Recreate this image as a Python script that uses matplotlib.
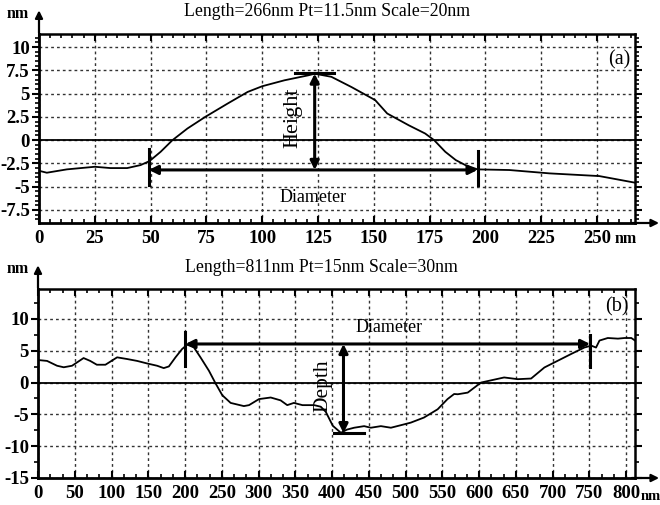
import matplotlib
matplotlib.use("Agg")
import matplotlib.pyplot as plt
from matplotlib.ticker import MultipleLocator

# ---------------- data ----------------
a_x = [0, 3.5, 12.5, 25, 32, 39.5, 45.5, 49.5, 54.5, 59.8, 66.5, 74.5, 84.5, 93.5, 100,
       110, 120.6, 123.5, 131, 140, 150.6, 156, 165.6, 173, 177, 182, 186.7, 191, 196.4,
       210.7, 228.7, 251, 258.7, 267]
a_y = [-3.29, -3.5, -3.14, -2.86, -3.0, -3.0, -2.68, -2.25, -1.25, 0, 1.25, 2.5, 3.93, 5.18, 5.79,
       6.43, 6.96, 7.14, 6.8, 5.7, 4.3, 2.86, 1.6, 0.71, 0, -1.25, -2.14, -2.68, -3.14,
       -3.21, -3.57, -3.86, -4.2, -4.57]

b_x = [0, 12.3, 25.9, 35, 46.3, 62, 71, 80, 91.7, 107.6, 121, 134.8, 148.4, 162, 171, 178, 187,
       196, 203, 212, 221, 232.5, 241.6, 250.7, 262, 280, 287, 300.6, 316.5, 330, 339, 348,
       359.7, 375.6, 384.6, 391.4, 401, 412, 420, 430, 443.6, 452.7, 466.4, 480, 493.6, 507,
       525, 543.6, 557, 566, 571, 584.5, 602.6, 634, 652.6, 670.7, 688.8, 707, 725, 743,
       752.5, 759, 763.7, 775, 788.8, 797.9, 807, 812]
b_y = [3.54, 3.4, 2.64, 2.4, 2.64, 3.85, 3.4, 2.8, 2.8, 3.96, 3.7, 3.4, 3.0, 2.64, 2.27, 2.53, 3.96,
       5.27, 5.95, 5.53, 3.96, 1.85, -0.15, -2.0, -3.2, -3.7, -3.55, -2.6, -2.35, -2.8, -3.55, -3.2,
       -3.55, -3.55, -3.8, -4.6, -6.8, -7.9, -7.4, -7.1, -6.85, -7.1, -6.85, -7.1, -6.7, -6.3,
       -5.5, -4.2, -2.6, -1.8, -1.84, -1.58, 0, 0.8, 0.53, 0.63, 2.37, 3.43, 4.48, 5.5,
       5.8, 5.5, 6.6, 7.0, 6.9, 7.0, 7.0, 6.6]

a_xticks = [0, 25, 50, 75, 100, 125, 150, 175, 200, 225, 250]
a_yticks = [10, 7.5, 5, 2.5, 0, -2.5, -5, -7.5]
a_yticklabels = ["10", "7.5", "5", "2.5", "0", "-2.5", "-5", "-7.5"]
b_xticks = [0, 50, 100, 150, 200, 250, 300, 350, 400, 450, 500, 550, 600, 650, 700, 750, 800]
b_yticks = [10, 5, 0, -5, -10, -15]
b_yticklabels = ["10", "5", "0", "-5", "-10", "-15"]

a_title = "Length=266nm Pt=11.5nm Scale=20nm"
b_title = "Length=811nm Pt=15nm Scale=30nm"

# annotations (data units)
a_diam = (49.2, 196.5, -3.2)
a_height = (123.5, 7.15, -3.2)
b_diam = (200.5, 751, 6.06)
b_depth = (415.5, 6.06, -7.95)

SERIF = ["Liberation Serif", "DejaVu Serif"]
plt.rcParams["font.family"] = SERIF

fig = plt.figure(figsize=(6.6, 5.05), dpi=100)
W, H = 660, 505


def make_axes(left, right, top, bottom):
    return fig.add_axes([left / W, 1 - bottom / H, (right - left) / W, (bottom - top) / H])


def style(ax, xlim, ylim, xticks, yticks, ylabels, xminor, yminor):
    ax.set_xlim(*xlim)
    ax.set_ylim(*ylim)
    ax.set_xticks(xticks)
    ax.set_xticklabels([str(t) for t in xticks])
    ax.set_yticks(yticks)
    ax.set_yticklabels(ylabels)
    ax.xaxis.set_minor_locator(MultipleLocator(xminor))
    ax.yaxis.set_minor_locator(MultipleLocator(yminor))
    ax.grid(True, which="major", color="#333333", linestyle=(0, (2, 2.2)), linewidth=1.0)
    ax.set_axisbelow(True)
    ax.tick_params(which="major", direction="out", length=5, width=1.5,
                   labelsize=13.5, pad=1.5, top=True, right=True, colors="black")
    ax.tick_params(which="minor", direction="out", length=3, width=1.2, top=True, right=True)
    ax.tick_params(axis="x", which="both", direction="in", bottom=True)
    ax.tick_params(axis="x", which="major", length=5, pad=5)
    for lab in ax.get_xticklabels() + ax.get_yticklabels():
        lab.set_fontweight("bold")
        lab.set_family(SERIF)
    ax.spines["left"].set_linewidth(2.0)
    ax.spines["bottom"].set_linewidth(2.0)
    ax.spines["top"].set_linewidth(1.8)
    ax.spines["right"].set_linewidth(1.8)
    ax.axhline(0, color="black", lw=1.3, zorder=2)
    # axis arrows
    ax.annotate("", xy=(0, 1.14), xytext=(0, 0.99), xycoords="axes fraction",
                arrowprops=dict(arrowstyle="-|>", color="black", lw=1.6, mutation_scale=11),
                annotation_clip=False)
    ax.annotate("", xy=(1.045, 0), xytext=(0.99, 0), xycoords="axes fraction",
                arrowprops=dict(arrowstyle="-|>", color="black", lw=1.6, mutation_scale=11),
                annotation_clip=False)


def dbl_arrow(ax, p0, p1):
    ax.annotate("", xy=p1, xytext=p0, xycoords="data",
                arrowprops=dict(arrowstyle="<|-|>", color="black", lw=2.2, mutation_scale=13,
                                shrinkA=0, shrinkB=0), zorder=5)


# ---------------- panel (a) ----------------
ax1 = make_axes(39, 635, 34, 223)
style(ax1, (0, 267), (-8.9, 11.4), a_xticks, a_yticks, a_yticklabels, 5, 0.5)
ax1.plot(a_x, a_y, color="black", lw=1.3, zorder=4)
x0, x1, yd = a_diam
dbl_arrow(ax1, (x0, yd), (x1, yd))
ax1.plot([x0, x0], [-1.0, -4.8], color="black", lw=2.2, zorder=5)
ax1.plot([x1, x1], [-1.2, -4.8], color="black", lw=2.2, zorder=5)
ax1.text(123, -6.2, "Diameter", fontsize=13, ha="center", va="center")
hx, ytop, ybot = a_height
dbl_arrow(ax1, (hx, ybot), (hx, ytop))
ax1.plot([114.5, 132], [7.2, 7.2], color="black", lw=2.2, zorder=5)
ax1.text(113.8, 2.4, "Height", fontsize=16, rotation=90, ha="center", va="center")
ax1.text(260, 8.6, "(a)", fontsize=14.5, ha="center", va="center")

fig.text(327 / W, 1 - 12 / H, a_title, fontsize=12.8, ha="center", va="center")
fig.text(18 / W, 1 - 14 / H, "nm", fontsize=11.5, fontweight="bold", ha="center", va="center")
fig.text(626 / W, 1 - 239 / H, "nm", fontsize=11.5, fontweight="bold", ha="center", va="center")

# ---------------- panel (b) ----------------
ax2 = make_axes(38, 635, 289, 478)
style(ax2, (0, 812), (-15, 14.7), b_xticks, b_yticks, b_yticklabels, 50 / 3, 2.5)
ax2.plot(b_x, b_y, color="black", lw=1.3, zorder=4)
x0, x1, yd = b_diam
dbl_arrow(ax2, (x0, yd), (x1, yd))
ax2.plot([x0, x0], [7.9, 2.6], color="black", lw=2.2, zorder=5)
ax2.plot([x1, x1], [7.4, 2.4], color="black", lw=2.2, zorder=5)
ax2.text(478, 8.7, "Diameter", fontsize=13, ha="center", va="center")
dx, ytop, ybot = b_depth
dbl_arrow(ax2, (dx, ybot), (dx, ytop))
ax2.plot([402, 443], [-8.0, -8.0], color="black", lw=2.2, zorder=5)
ax2.text(388, -0.5, "Depth", fontsize=15.5, rotation=90, ha="center", va="center")
ax2.text(788, 11.85, "(b)", fontsize=14.5, ha="center", va="center")

fig.text(321 / W, 1 - 267 / H, b_title, fontsize=12.8, ha="center", va="center")
fig.text(18 / W, 1 - 269 / H, "nm", fontsize=11.5, fontweight="bold", ha="center", va="center")
fig.text(651 / W, 1 - 497 / H, "nm", fontsize=10.5, fontweight="bold", ha="center", va="center")

fig.savefig("out.png", dpi=100)
